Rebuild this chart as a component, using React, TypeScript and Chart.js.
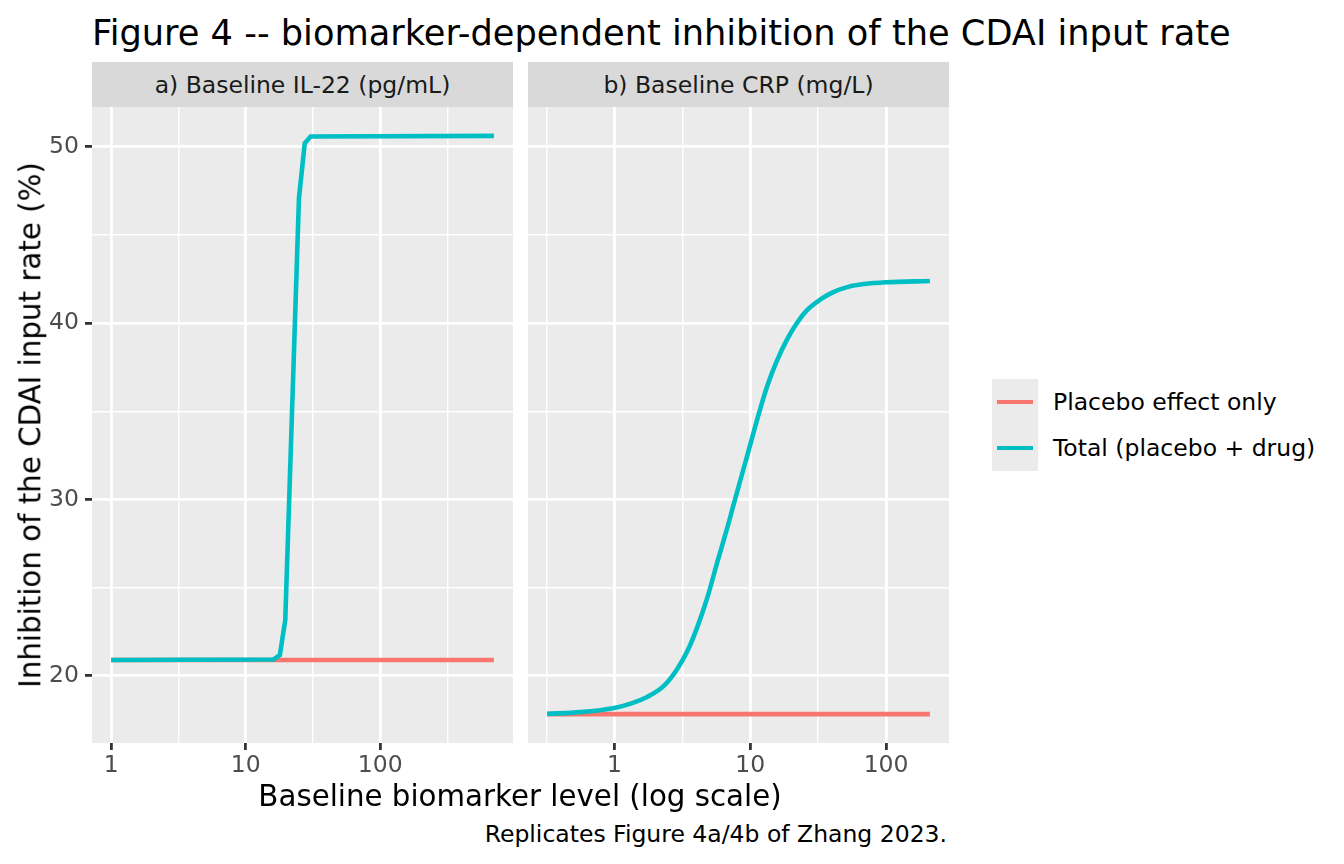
import { useEffect, useRef } from 'react'
import { Chart, registerables } from 'chart.js'

Chart.register(...registerables)
Chart.defaults.font.family = "'DejaVu Sans', sans-serif"

const SERIES = ['Placebo effect only', 'Total (placebo + drug)']
const COLORS = ['#F8766D', '#00BFC4']

// a) Baseline IL-22 (pg/mL)
const il22Levels = [1, 16.1, 17.95, 19.7, 24.9, 27.5, 30.4, 700]
const il22Total = [20.9, 20.93, 21.17, 23.16, 47.09, 50.21, 50.59, 50.62]
const il22Placebo = [20.9, 20.9, 20.9, 20.9, 20.9, 20.9, 20.9, 20.9]

// b) Baseline CRP (mg/L)
const crpLevels = [
  0.32, 0.56, 1, 1.32, 1.74, 2.29, 2.88, 3.47, 4.07, 4.84, 5.75, 7.03, 7.53,
  9.44, 11.7, 13.5, 15.8, 18.6, 22.0, 26.3, 32.7, 39.8, 52.5, 69.2, 100, 210,
]
const crpTotal = [
  17.84, 17.94, 18.18, 18.42, 18.8, 19.4, 20.35, 21.45, 22.75, 24.45, 26.5, 28.83, 29.7,
  32.4, 35.0, 36.55, 37.9, 39.05, 40.0, 40.75, 41.33, 41.72, 42.06, 42.22, 42.32, 42.39,
]
const crpPlacebo = crpLevels.map(() => 17.83)

// axis breaks
const xMajorTicks = [1, 10, 100]
const xMinorTicks = [0.3162, 3.162, 31.62, 316.2]
const yMajorTicks = [20, 30, 40, 50]
const yMinorTicks = [25, 35, 45]

function expand(lo: number, hi: number): [number, number] {
  const pad = (hi - lo) * 0.05
  return [lo - pad, hi + pad]
}

const allY = [...il22Total, ...il22Placebo, ...crpTotal, ...crpPlacebo]
const [yMin, yMax] = expand(Math.min(...allY), Math.max(...allY))

const panelBg = {
  id: 'panelBg',
  beforeDraw(chart: Chart) {
    const { ctx, chartArea } = chart
    ctx.save()
    ctx.fillStyle = '#EBEBEB'
    ctx.fillRect(chartArea.left, chartArea.top, chartArea.width, chartArea.height)
    ctx.restore()
  },
}

const isMajorX = (v: number) => xMajorTicks.some((t) => Math.abs(t - v) < 1e-9)
const isMajorY = (v: number) => yMajorTicks.includes(v)

interface PanelProps {
  levels: number[]
  placebo: number[]
  total: number[]
  showYAxis: boolean
  smooth: boolean
}

function Panel({ levels, placebo, total, showYAxis, smooth }: PanelProps) {
  const canvasRef = useRef<HTMLCanvasElement>(null)

  useEffect(() => {
    if (!canvasRef.current) return

    const [lo, hi] = expand(Math.log10(Math.min(...levels)), Math.log10(Math.max(...levels)))
    const xMin = 10 ** lo
    const xMax = 10 ** hi
    const xTicks = [...xMajorTicks, ...xMinorTicks]
      .filter((v) => v >= xMin && v <= xMax)
      .sort((a, b) => a - b)
    const yTicks = [...yMajorTicks, ...yMinorTicks].sort((a, b) => a - b)

    const line = (i: number, values: number[]) => ({
      label: SERIES[i],
      data: levels.map((x, k) => ({ x, y: values[k] })),
      borderColor: COLORS[i],
      backgroundColor: COLORS[i],
      borderWidth: 4.6,
      borderCapStyle: 'butt' as const,
      pointRadius: 0,
      fill: false,
      cubicInterpolationMode: smooth ? ('monotone' as const) : ('default' as const),
      tension: 0,
    })

    const chart = new Chart(canvasRef.current, {
      type: 'line',
      // total first so it is drawn over the placebo line
      data: { datasets: [line(1, total), line(0, placebo)] },
      options: {
        animation: false,
        responsive: true,
        maintainAspectRatio: false,
        layout: { padding: 0, autoPadding: false },
        plugins: { legend: { display: false }, tooltip: { enabled: false } },
        scales: {
          x: {
            type: 'logarithmic',
            min: xMin,
            max: xMax,
            bounds: 'data',
            afterBuildTicks: (scale) => {
              scale.ticks = xTicks.map((value) => ({ value }))
            },
            afterFit: (scale) => {
              scale.height = 64
              scale.paddingLeft = 0
              scale.paddingRight = 0
            },
            border: { display: false },
            grid: {
              color: '#FFFFFF',
              lineWidth: (ctx) => (isMajorX(ctx.tick?.value) ? 2.8 : 1.4),
              tickColor: (ctx) => (isMajorX(ctx.tick?.value) ? '#333333' : 'rgba(0,0,0,0)'),
              tickLength: 7,
              tickWidth: 2.8,
            },
            ticks: {
              autoSkip: false,
              maxRotation: 0,
              padding: 2,
              color: '#4D4D4D',
              font: { size: 23.5 },
              callback: (v) => (isMajorX(Number(v)) ? String(v) : ''),
            },
          },
          y: {
            type: 'linear',
            min: yMin,
            max: yMax,
            bounds: 'data',
            afterBuildTicks: (scale) => {
              scale.ticks = yTicks.map((value) => ({ value }))
            },
            afterFit: (scale) => {
              scale.width = showYAxis ? 92 : 0
              scale.paddingTop = 0
              scale.paddingBottom = 0
            },
            border: { display: false },
            grid: {
              color: '#FFFFFF',
              lineWidth: (ctx) => (isMajorY(ctx.tick?.value) ? 2.8 : 1.4),
              tickColor: (ctx) => (isMajorY(ctx.tick?.value) ? '#333333' : 'rgba(0,0,0,0)'),
              drawTicks: showYAxis,
              tickLength: 7,
              tickWidth: 2.8,
            },
            ticks: {
              display: showYAxis,
              autoSkip: false,
              padding: 6,
              color: '#4D4D4D',
              font: { size: 23.5 },
              callback: (v) => (isMajorY(Number(v)) ? String(v) : ''),
            },
          },
        },
      },
      plugins: [panelBg],
    })

    return () => {
      chart.destroy()
    }
  }, [levels, placebo, total, showYAxis, smooth])

  return <canvas ref={canvasRef} />
}

const text = (extra: React.CSSProperties): React.CSSProperties => ({
  position: 'absolute',
  whiteSpace: 'nowrap',
  ...extra,
})

function Strip({ left, label }: { left: number; label: string }) {
  return (
    <div
      style={{
        position: 'absolute',
        left,
        top: 62,
        width: 421,
        height: 45,
        background: '#D9D9D9',
        color: '#1A1A1A',
        fontSize: 23.5,
        display: 'flex',
        alignItems: 'center',
        justifyContent: 'center',
      }}
    >
      {label}
    </div>
  )
}

function LegendKey({ top, color, label }: { top: number; color: string; label: string }) {
  return (
    <>
      <div style={{ position: 'absolute', left: 992, top, width: 46, height: 46, background: '#EBEBEB' }}>
        <div style={{ position: 'absolute', left: 5, right: 5, top: 20.7, height: 4.6, background: color }} />
      </div>
      <div style={text({ left: 1053, top, height: 46, lineHeight: '46px', fontSize: 23.5, color: '#000000' })}>
        {label}
      </div>
    </>
  )
}

export default function App() {
  return (
    <div
      style={{
        position: 'absolute',
        left: 0,
        top: 0,
        width: 1344,
        height: 864,
        background: '#FFFFFF',
        overflow: 'hidden',
        fontFamily: "'DejaVu Sans', sans-serif",
      }}
    >
      <div style={text({ left: 92, top: 14.8, fontSize: 35.2, lineHeight: '35.2px', color: '#000000' })}>
        Figure 4 -- biomarker-dependent inhibition of the CDAI input rate
      </div>

      <Strip left={92} label="a) Baseline IL-22 (pg/mL)" />
      <Strip left={528} label="b) Baseline CRP (mg/L)" />

      <div style={{ position: 'absolute', left: 0, top: 107, width: 513, height: 700 }}>
        <Panel levels={il22Levels} placebo={il22Placebo} total={il22Total} showYAxis smooth={false} />
      </div>
      <div style={{ position: 'absolute', left: 528, top: 107, width: 421, height: 700 }}>
        <Panel levels={crpLevels} placebo={crpPlacebo} total={crpTotal} showYAxis={false} smooth />
      </div>

      <div
        style={text({
          left: 31,
          top: 425,
          fontSize: 29.3,
          lineHeight: '29.3px',
          color: '#000000',
          transform: 'translate(-50%, -50%) rotate(-90deg)',
        })}
      >
        Inhibition of the CDAI input rate (%)
      </div>

      <div
        style={text({
          left: 520,
          top: 782,
          fontSize: 29.3,
          lineHeight: '29.3px',
          color: '#000000',
          transform: 'translateX(-50%)',
        })}
      >
        Baseline biomarker level (log scale)
      </div>

      <div style={text({ right: 1344 - 947, top: 823.4, fontSize: 23.5, lineHeight: '23.5px', color: '#000000' })}>
        Replicates Figure 4a/4b of Zhang 2023.
      </div>

      <LegendKey top={379} color={COLORS[0]} label={SERIES[0]} />
      <LegendKey top={425} color={COLORS[1]} label={SERIES[1]} />
    </div>
  )
}
